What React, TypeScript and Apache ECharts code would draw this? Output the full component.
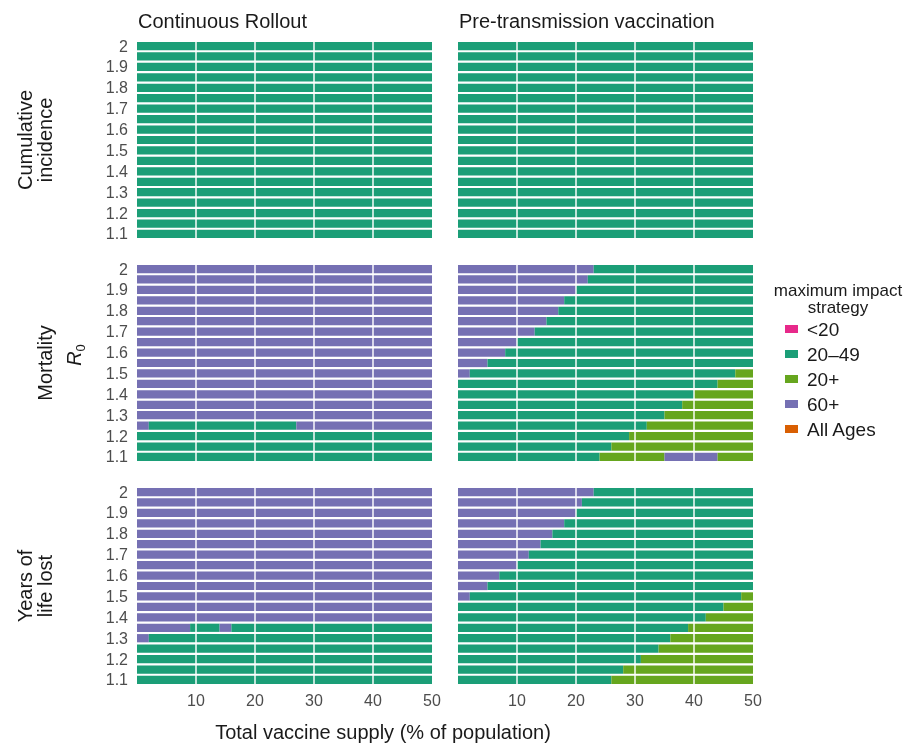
import React, { useEffect, useRef } from "react";
import * as echarts from "echarts";

// ---------- data ----------
const R0_LABELS = ["1.1", "1.15", "1.2", "1.25", "1.3", "1.35", "1.4", "1.45", "1.5", "1.55", "1.6", "1.65", "1.7", "1.75", "1.8", "1.85", "1.9", "1.95", "2"];
const STRATEGIES = ["<20", "20–49", "20+", "60+", "All Ages"];
const COLORS = ["#E7298A", "#1B9E77", "#66A61E", "#7570B3", "#D95F02"];
const X_TICKS_LINES = [10, 20, 30, 40];
const COLUMN_TITLES = ["Continuous Rollout", "Pre-transmission vaccination"];
const ROW_TITLES = ["Cumulative\nincidence", "Mortality", "Years of\nlife lost"];

const G = "20–49";
const O = "20+";
const P = "60+";

// Each row (R0 = 2 at top, down to 1.1) is a list of runs: [strategy, end of run (% supply)]
const cumulativeContinuous = [
  [[G, 50]], [[G, 50]], [[G, 50]], [[G, 50]], [[G, 50]], [[G, 50]], [[G, 50]], [[G, 50]], [[G, 50]], [[G, 50]],
  [[G, 50]], [[G, 50]], [[G, 50]], [[G, 50]], [[G, 50]], [[G, 50]], [[G, 50]], [[G, 50]], [[G, 50]],
];
const cumulativePre = [
  [[G, 50]], [[G, 50]], [[G, 50]], [[G, 50]], [[G, 50]], [[G, 50]], [[G, 50]], [[G, 50]], [[G, 50]], [[G, 50]],
  [[G, 50]], [[G, 50]], [[G, 50]], [[G, 50]], [[G, 50]], [[G, 50]], [[G, 50]], [[G, 50]], [[G, 50]],
];
const mortalityContinuous = [
  [[P, 50]], [[P, 50]], [[P, 50]], [[P, 50]], [[P, 50]], [[P, 50]], [[P, 50]], [[P, 50]], [[P, 50]], [[P, 50]],
  [[P, 50]], [[P, 50]], [[P, 50]], [[P, 50]], [[P, 50]],
  [[P, 2], [G, 27], [P, 50]],
  [[G, 50]], [[G, 50]], [[G, 50]],
];
const mortalityPre = [
  [[P, 23], [G, 50]],
  [[P, 22], [G, 50]],
  [[P, 20], [G, 50]],
  [[P, 18], [G, 50]],
  [[P, 17], [G, 50]],
  [[P, 15], [G, 50]],
  [[P, 13], [G, 50]],
  [[P, 10], [G, 50]],
  [[P, 8], [G, 50]],
  [[P, 5], [G, 50]],
  [[P, 2], [G, 47], [O, 50]],
  [[G, 44], [O, 50]],
  [[G, 40], [O, 50]],
  [[G, 38], [O, 50]],
  [[G, 35], [O, 50]],
  [[G, 32], [O, 50]],
  [[G, 29], [O, 50]],
  [[G, 26], [O, 50]],
  [[G, 24], [O, 35], [P, 44], [O, 50]],
];
const yllContinuous = [
  [[P, 50]], [[P, 50]], [[P, 50]], [[P, 50]], [[P, 50]], [[P, 50]], [[P, 50]], [[P, 50]], [[P, 50]], [[P, 50]],
  [[P, 50]], [[P, 50]], [[P, 50]],
  [[P, 9], [G, 14], [P, 16], [G, 50]],
  [[P, 2], [G, 50]],
  [[G, 50]], [[G, 50]], [[G, 50]], [[G, 50]],
];
const yllPre = [
  [[P, 23], [G, 50]],
  [[P, 21], [G, 50]],
  [[P, 20], [G, 50]],
  [[P, 18], [G, 50]],
  [[P, 16], [G, 50]],
  [[P, 14], [G, 50]],
  [[P, 12], [G, 50]],
  [[P, 10], [G, 50]],
  [[P, 7], [G, 50]],
  [[P, 5], [G, 50]],
  [[P, 2], [G, 48], [O, 50]],
  [[G, 45], [O, 50]],
  [[G, 42], [O, 50]],
  [[G, 39], [O, 50]],
  [[G, 36], [O, 50]],
  [[G, 34], [O, 50]],
  [[G, 31], [O, 50]],
  [[G, 28], [O, 50]],
  [[G, 26], [O, 50]],
];

const PANELS = [
  cumulativeContinuous, cumulativePre,
  mortalityContinuous, mortalityPre,
  yllContinuous, yllPre,
];

// ---------- layout ----------
const FONT = "'Liberation Sans', Arial, Helvetica, sans-serif";
const COL_LEFT = [137, 458];
const PANEL_W = 295;
const ROW_TOP = [40.8, 263.8, 486.8];
const PANEL_H = 198.4;

function toSegments(rows: any[]) {
  const out: number[][] = [];
  const n = rows.length;
  rows.forEach((runs: any[], i: number) => {
    const rowIdx = n - 1 - i;
    let start = 0;
    runs.forEach(([s, end]: [string, number]) => {
      out.push([start, end, rowIdx, STRATEGIES.indexOf(s)]);
      start = end;
    });
  });
  return out;
}

export default function App() {
  const ref = useRef<HTMLDivElement>(null);
  useEffect(() => {
    if (!ref.current) return;
    const chart = echarts.init(ref.current, undefined, { renderer: "svg" });

    const grids: any[] = [];
    const xAxes: any[] = [];
    const yAxes: any[] = [];
    const series: any[] = [];

    PANELS.forEach((rows, i) => {
      const r = Math.floor(i / 2);
      const c = i % 2;
      grids.push({ left: COL_LEFT[c], top: ROW_TOP[r], width: PANEL_W, height: PANEL_H, containLabel: false });
      xAxes.push({
        gridIndex: i, type: "value", min: 0, max: 50, interval: 10,
        axisLine: { show: false }, axisTick: { show: false }, splitLine: { show: false },
        axisLabel: {
          show: r === 2, color: "#4D4D4D", fontSize: 16, margin: 7, fontFamily: FONT,
          showMinLabel: false, showMaxLabel: true,
          formatter: (v: number) => (v === 0 ? "" : String(v)),
        },
      });
      yAxes.push({
        gridIndex: i, type: "category", data: R0_LABELS, boundaryGap: true,
        axisLine: { show: false }, axisTick: { show: false }, splitLine: { show: false },
        axisLabel: { show: c === 0, interval: 1, color: "#4D4D4D", fontSize: 16, margin: 9, fontFamily: FONT },
      });
      series.push({
        type: "custom", xAxisIndex: i, yAxisIndex: i,
        encode: { x: [0, 1], y: 2 },
        data: toSegments(rows),
        renderItem: (params: any, api: any) => {
          const x0 = api.value(0);
          const x1 = api.value(1);
          const row = api.value(2);
          const s = api.value(3);
          const p0 = api.coord([x0, row]);
          const p1 = api.coord([x1, row]);
          const h = api.size([0, 1])[1] * 0.79;
          return {
            type: "rect",
            shape: { x: p0[0], y: p0[1] - h / 2, width: p1[0] - p0[0], height: h },
            style: { fill: COLORS[s] },
          };
        },
        z: 2,
      });
      series.push({
        type: "custom", xAxisIndex: i, yAxisIndex: i,
        encode: { x: 0, y: 1 },
        data: X_TICKS_LINES.map((v) => [v, 0]),
        renderItem: (params: any, api: any) => {
          const x = api.coord([api.value(0), 0])[0];
          const cs = params.coordSys;
          return {
            type: "line",
            shape: { x1: x, y1: cs.y, x2: x, y2: cs.y + cs.height },
            style: { stroke: "#ffffff", lineWidth: 1.6, opacity: 0.9 },
          };
        },
        z: 3,
      });
    });

    STRATEGIES.forEach((s, k) => {
      series.push({
        type: "custom", name: s, xAxisIndex: 0, yAxisIndex: 0, data: [],
        itemStyle: { color: COLORS[k] },
        renderItem: () => null,
      });
    });

    const graphic: any[] = [];
    COLUMN_TITLES.forEach((t, c) => {
      graphic.push({
        type: "text", x: COL_LEFT[c] + 1, y: 21,
        style: { text: t, fontSize: 20, fontFamily: FONT, fill: "#1A1A1A", align: "left", verticalAlign: "middle" },
      });
    });
    ROW_TITLES.forEach((t, r) => {
      graphic.push({
        type: "text", x: 55, y: ROW_TOP[r] + PANEL_H / 2, rotation: Math.PI / 2,
        style: { text: t, fontSize: 20, lineHeight: 20, fontFamily: FONT, fill: "#1A1A1A", align: "center", verticalAlign: "bottom" },
      });
    });
    graphic.push({
      type: "text", x: 84, y: 355, rotation: Math.PI / 2,
      style: {
        text: "{a|R}{b|0}", fontFamily: FONT, fill: "#1A1A1A", align: "center", verticalAlign: "bottom",
        rich: {
          a: { fontSize: 20, fontStyle: "italic", fontFamily: FONT, fill: "#1A1A1A" },
          b: { fontSize: 13, fontFamily: FONT, fill: "#1A1A1A", verticalAlign: "bottom", padding: [0, 0, -3, 0] },
        },
      },
    });
    graphic.push({
      type: "text", x: 383, y: 732,
      style: { text: "Total vaccine supply (% of population)", fontSize: 20, fontFamily: FONT, fill: "#1A1A1A", align: "center", verticalAlign: "middle" },
    });
    graphic.push({
      type: "text", x: 838, y: 299,
      style: { text: "maximum impact\nstrategy", fontSize: 17, lineHeight: 17.5, fontFamily: FONT, fill: "#1A1A1A", align: "center", verticalAlign: "middle" },
    });

    chart.setOption({
      animation: false,
      textStyle: { fontFamily: FONT },
      grid: grids,
      xAxis: xAxes,
      yAxis: yAxes,
      series,
      graphic,
      legend: {
        orient: "vertical", left: 780, top: 314,
        itemWidth: 13, itemHeight: 8, itemGap: 5, icon: "rect",
        selectedMode: false,
        textStyle: { fontSize: 19, lineHeight: 20, color: "#1A1A1A", fontFamily: FONT, padding: [0, 0, 0, 4] },
        data: STRATEGIES.map((s, k) => ({ name: s, itemStyle: { color: COLORS[k] } })),
      },
    });
    return () => chart.dispose();
  }, []);
  return <div ref={ref} style={{ position: "fixed", left: 0, top: 0, width: 912, height: 745 }} />;
}
